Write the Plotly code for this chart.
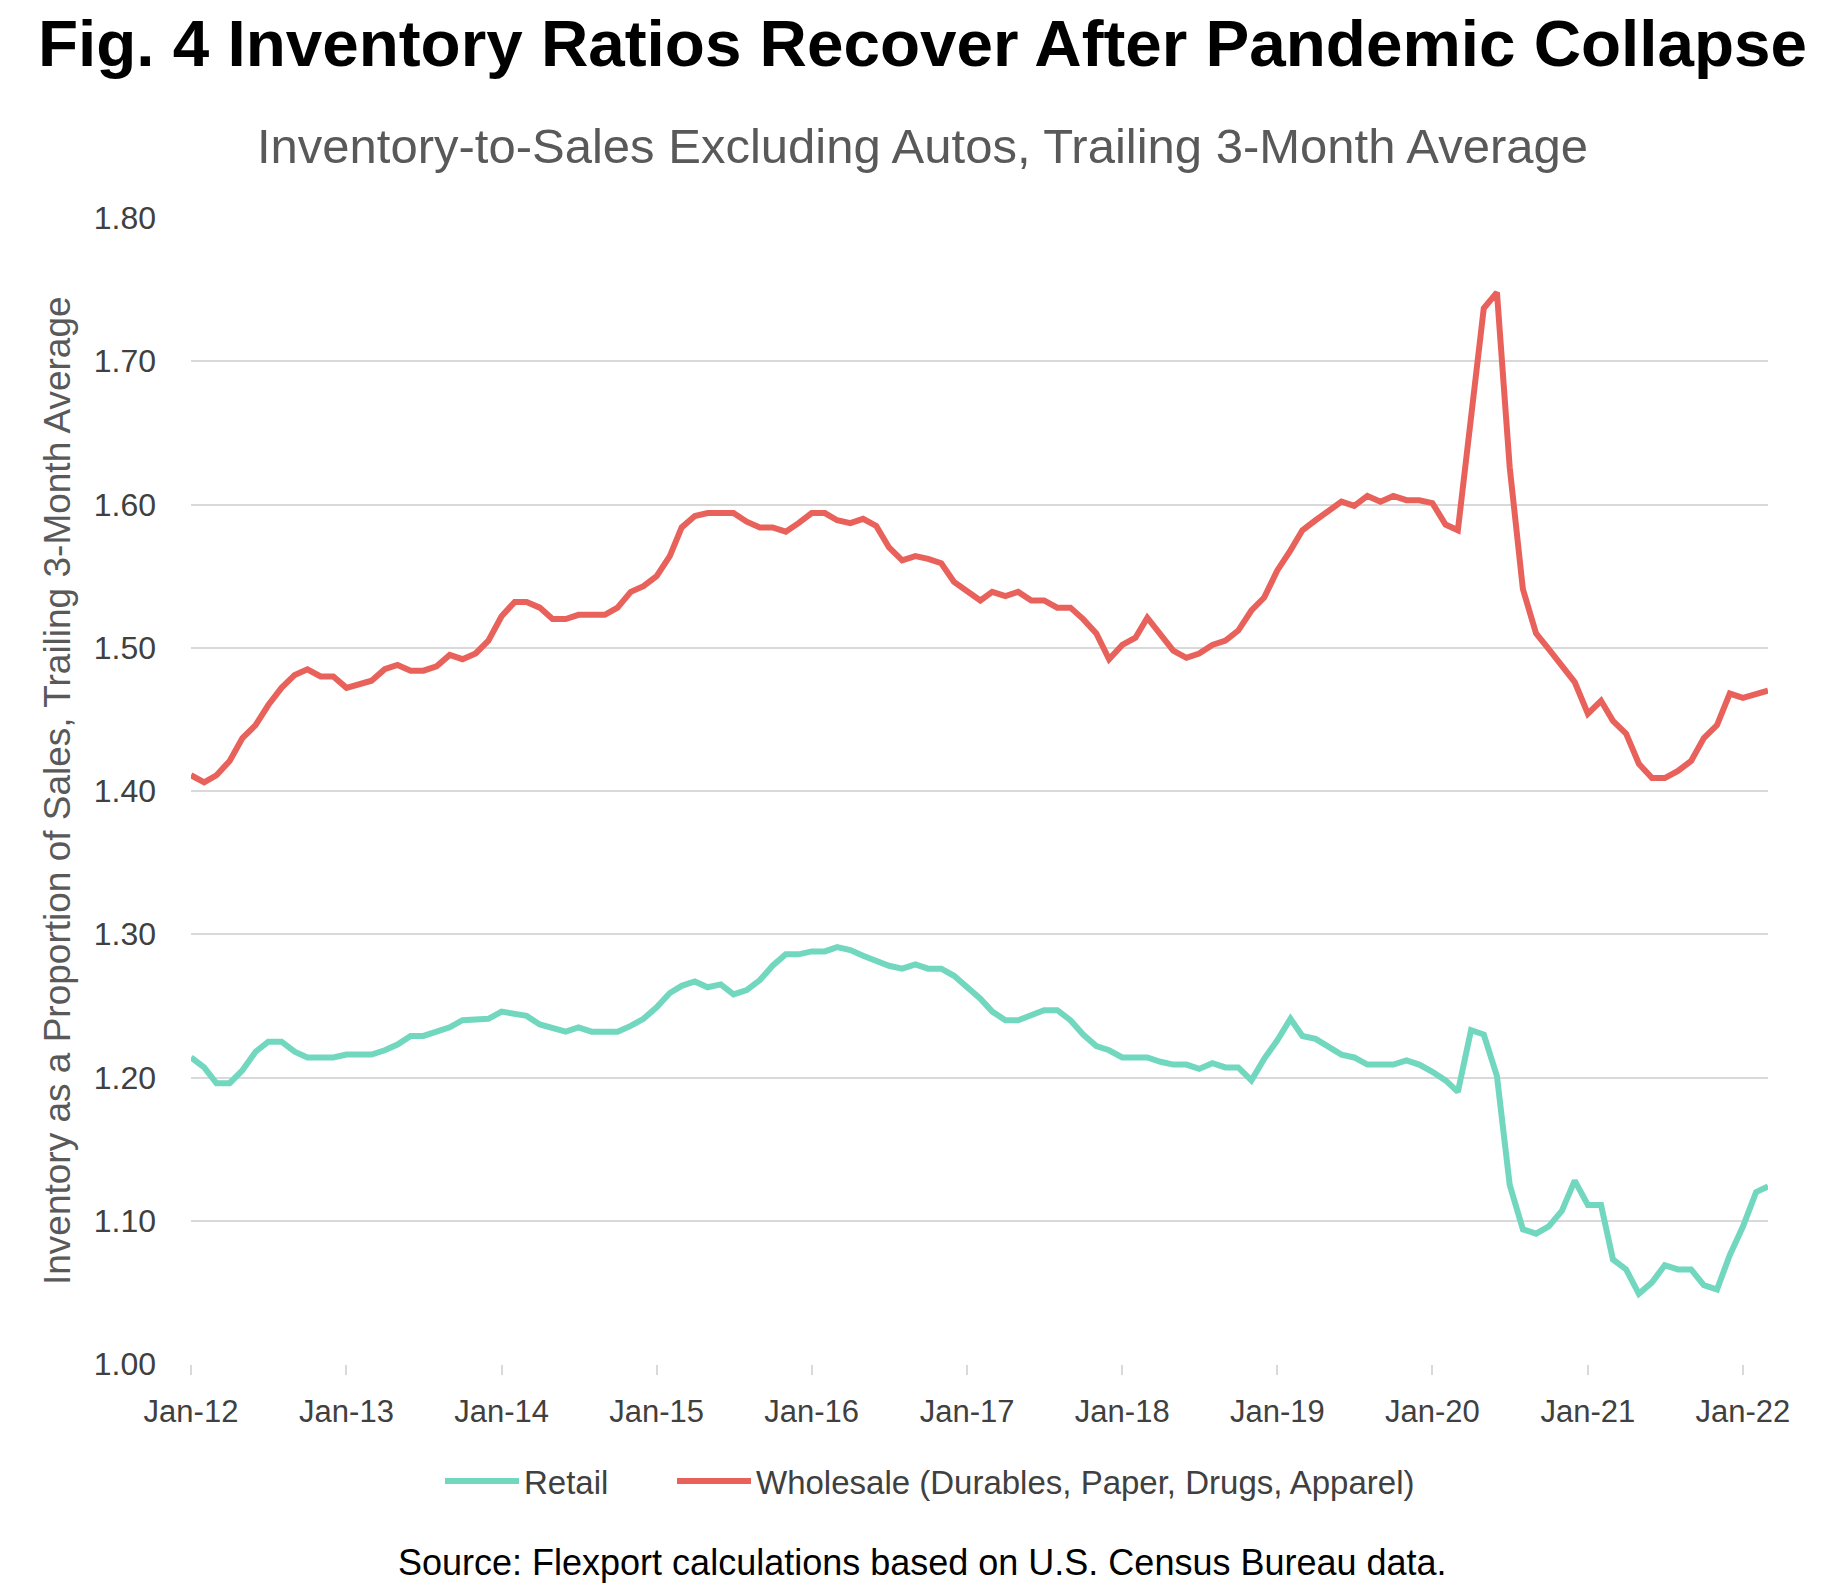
import pandas as pd
import plotly.graph_objects as go

# ---- data ----
start_month = "2012-01-01"
n_months = 123  # Jan-2012 .. Mar-2022

retail = [
    1.214, 1.207, 1.196, 1.196, 1.205, 1.218, 1.225, 1.225, 1.218, 1.214, 1.214, 1.214,
    1.216, 1.216, 1.216, 1.219, 1.223, 1.229, 1.229, 1.232, 1.235, 1.240, 1.241, 1.241,
    1.246, 1.244, 1.243, 1.237, 1.234, 1.232, 1.235, 1.232, 1.232, 1.232, 1.236, 1.241,
    1.249, 1.259, 1.264, 1.267, 1.263, 1.265, 1.258, 1.261, 1.268, 1.278, 1.286, 1.286,
    1.288, 1.288, 1.291, 1.289, 1.285, 1.281, 1.278, 1.276, 1.279, 1.276, 1.276, 1.271,
    1.263, 1.255, 1.246, 1.240, 1.240, 1.243, 1.247, 1.247, 1.240, 1.230, 1.222, 1.219,
    1.214, 1.214, 1.214, 1.211, 1.209, 1.209, 1.206, 1.210, 1.207, 1.207, 1.198, 1.213,
    1.226, 1.241, 1.229, 1.227, 1.221, 1.216, 1.214, 1.209, 1.209, 1.209, 1.212, 1.209,
    1.204, 1.198, 1.190, 1.233, 1.230, 1.201, 1.125, 1.094, 1.091, 1.096, 1.107, 1.128,
    1.111, 1.111, 1.073, 1.066, 1.049, 1.057, 1.069, 1.066, 1.066, 1.055, 1.052, 1.076,
    1.096, 1.120, 1.124,
]

wholesale = [
    1.411, 1.406, 1.411, 1.421, 1.437, 1.446, 1.460, 1.472, 1.481, 1.485, 1.480, 1.480,
    1.472, 1.475, 1.477, 1.485, 1.488, 1.484, 1.484, 1.487, 1.495, 1.492, 1.496, 1.505,
    1.522, 1.532, 1.532, 1.528, 1.520, 1.520, 1.523, 1.523, 1.523, 1.528, 1.539, 1.543,
    1.550, 1.564, 1.584, 1.592, 1.594, 1.594, 1.594, 1.588, 1.584, 1.584, 1.581, 1.587,
    1.594, 1.594, 1.589, 1.587, 1.590, 1.585, 1.570, 1.561, 1.564, 1.562, 1.559, 1.546,
    1.540, 1.533, 1.539, 1.536, 1.539, 1.533, 1.533, 1.528, 1.528, 1.520, 1.510, 1.492,
    1.502, 1.507, 1.521, 1.509, 1.498, 1.493, 1.496, 1.502, 1.505, 1.512, 1.526, 1.535,
    1.554, 1.568, 1.582, 1.589, 1.596, 1.602, 1.599, 1.606, 1.602, 1.606, 1.603, 1.603,
    1.601, 1.586, 1.582, 1.664, 1.737, 1.748, 1.626, 1.541, 1.510, 1.499, 1.487, 1.476,
    1.454, 1.463, 1.449, 1.440, 1.419, 1.409, 1.409, 1.414, 1.421, 1.437, 1.446, 1.468,
    1.465, 1.468, 1.470,
]

tick_dates = ["2012-01-01", "2013-01-01", "2014-01-01", "2015-01-01", "2016-01-01",
              "2017-01-01", "2018-01-01", "2019-01-01", "2020-01-01", "2021-01-01",
              "2022-01-01"]
tick_labels = ["Jan-12", "Jan-13", "Jan-14", "Jan-15", "Jan-16", "Jan-17",
               "Jan-18", "Jan-19", "Jan-20", "Jan-21", "Jan-22"]
y_ticks = [1.00, 1.10, 1.20, 1.30, 1.40, 1.50, 1.60, 1.70, 1.80]

series_names = ["Retail", "Wholesale (Durables, Paper, Drugs, Apparel)"]

title_text = "Fig. 4 Inventory Ratios Recover After Pandemic Collapse"
subtitle_text = "Inventory-to-Sales Excluding Autos, Trailing 3-Month Average"
y_title = "Inventory as a Proportion of Sales, Trailing 3-Month Average"
source_text = "Source: Flexport calculations based on U.S. Census Bureau data."

# ---- figure ----
months = pd.date_range(start_month, periods=n_months, freq="MS")

FONT = "Liberation Sans"
TEAL = "#72D7BF"
RED = "#E8625B"
GRID = "#D9D9D9"

fig = go.Figure()
fig.add_trace(go.Scatter(x=months, y=retail, mode="lines", name=series_names[0],
                         line=dict(color=TEAL, width=6), legend="legend"))
fig.add_trace(go.Scatter(x=months, y=wholesale, mode="lines", name=series_names[1],
                         line=dict(color=RED, width=6), legend="legend2"))

# page body adds an 8px margin, so the figure is 16px smaller than the window
W, H = 1829, 1579
L, R, T, B = 183, 69, 210, 223
ph = H - T - B
pw = W - L - R

legend_y = (H - B - 1473) / ph
leg_common = dict(orientation="h", xref="container", xanchor="left",
                  yref="paper", y=legend_y, yanchor="middle",
                  font=dict(family=FONT, size=33, color="#404040"), itemwidth=74,
                  bgcolor="rgba(0,0,0,0)")

fig.update_layout(
    width=W, height=H,
    margin=dict(l=L, r=R, t=T, b=B, autoexpand=False),
    paper_bgcolor="white", plot_bgcolor="white",
    font=dict(family=FONT, color="#404040"),
    title=dict(text="<b>" + title_text + "</b>", x=0.5, xref="container", xanchor="center",
               y=1 - 35 / H, yref="container", yanchor="middle",
               font=dict(family=FONT, size=65.6, color="#000000")),
    showlegend=True,
    legend=dict(x=432 / W, **leg_common),
    legend2=dict(x=664 / W, **leg_common),
)

fig.update_xaxes(
    type="date",
    range=[months[0], months[-1]],
    tickvals=tick_dates, ticktext=tick_labels,
    ticks="outside", ticklen=10, tickwidth=2, tickcolor=GRID,
    showgrid=False, showline=False, zeroline=False,
    tickfont=dict(size=31, color="#404040"),
    ticklabelstandoff=10,
)

fig.update_yaxes(
    range=[1.0, 1.8], tickvals=y_ticks, tickformat=".2f",
    showgrid=True, gridcolor=GRID, gridwidth=2,
    zeroline=False, showline=False, ticks="",
    tickfont=dict(size=32, color="#404040"),
    ticklabelstandoff=34,
)

# y-axis title (rotated text placed left of the tick labels)
fig.add_annotation(text=y_title, xref="paper", yref="paper",
                   x=(49 - L) / pw, y=0.5, textangle=-90,
                   xanchor="center", yanchor="middle", showarrow=False,
                   font=dict(family=FONT, size=37, color="#595959"))
fig.add_annotation(text=subtitle_text, xref="paper", yref="paper",
                   x=(W / 2 - L) / pw, y=(H - B - 138) / ph,
                   xanchor="center", yanchor="middle", showarrow=False,
                   font=dict(family=FONT, size=49, color="#595959"))
fig.add_annotation(text=source_text, xref="paper", yref="paper",
                   x=(W / 2 - L) / pw, y=(H - B - 1554) / ph,
                   xanchor="center", yanchor="middle", showarrow=False,
                   font=dict(family=FONT, size=36, color="#000000"))

fig.write_html("out.html")
